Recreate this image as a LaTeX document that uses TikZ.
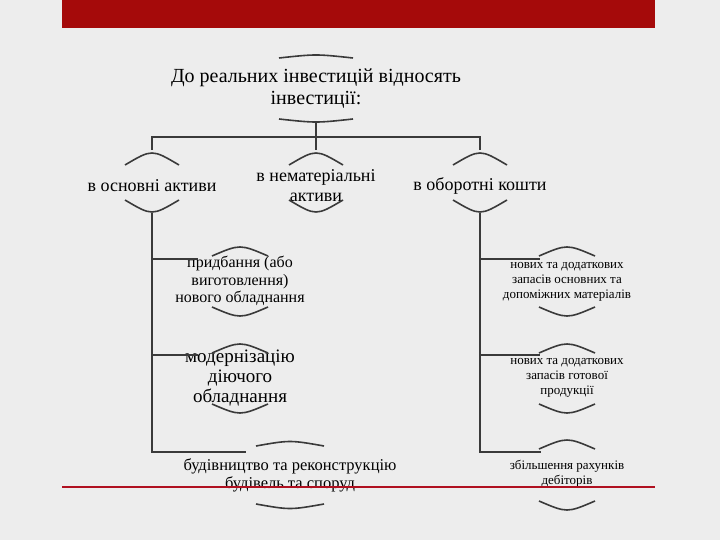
\documentclass[tikz,border=0pt]{standalone}
\usepackage{fontspec}
\setmainfont{Liberation Serif}
\definecolor{barred}{HTML}{A50A0A}
\definecolor{linered}{HTML}{B01020}
\definecolor{bg}{HTML}{EDEDED}
\definecolor{ink}{HTML}{3A3A3A}
\newcommand{\ringarcs}[5]{%
  \draw[arcst] ({#1-#4},{#2+#5}) .. controls (#1,{#2-#5}) .. ({#1+#4},{#2+#5});
  \draw[arcst] ({#1-#4},{#3-#5}) .. controls (#1,{#3+#5}) .. ({#1+#4},{#3-#5});}
\begin{document}
\begin{tikzpicture}[x=1pt,y=-1pt,
  arcst/.style={draw=ink,line width=1.6pt},
  conn/.style={draw=ink,line width=1.4pt},
  lbl/.style={align=center,text=black,inner sep=0pt},
  big/.style={lbl,font=\fontsize{20}{22}\selectfont},
  mid/.style={lbl,font=\fontsize{18}{20}\selectfont},
  small/.style={lbl,font=\fontsize{13}{15}\selectfont}]
\fill[bg] (0,0) rectangle (720,540);
\useasboundingbox (0,0) rectangle (720,540);
\fill[barred] (62,0) rectangle (655,28);
% nodes
\node[big] (root) at (316,89) {До реальних інвестицій відносять\\інвестиції:};
\node[mid] (a) at (152,186) {в основні активи};
\node[mid] (b) at (316,186) {в нематеріальні\\активи};
\node[mid] (c) at (480,186) {в оборотні кошти};
\node[lbl,font=\fontsize{16}{17.5}\selectfont] (a1) at (240,281) {придбання (або\\виготовлення)\\нового обладнання};
\node[lbl,font=\fontsize{19}{20}\selectfont] (a2) at (240,378) {модернізацію\\діючого\\обладнання};
\node[lbl,font=\fontsize{16.5}{18}\selectfont] (a3) at (290,475) {будівництво та реконструкцію\\будівель та споруд};
\node[small] (c1) at (567,282) {нових та додаткових\\запасів основних та\\допоміжних матеріалів};
\node[small] (c2) at (567,378) {нових та додаткових\\запасів готової\\продукції};
\node[small] (c3) at (567,474) {збільшення рахунків\\дебіторів};
% arcs
\ringarcs{316}{56}{121}{37}{2}
\ringarcs{152}{157}{208}{27}{8}
\ringarcs{316}{157}{208}{27}{8}
\ringarcs{480}{157}{208}{27}{8}
\ringarcs{240}{250}{313}{28}{6}
\ringarcs{240}{347}{410}{28}{6}
\ringarcs{290}{443}{507}{34}{3}
\ringarcs{567}{250}{313}{28}{6}
\ringarcs{567}{347}{410}{28}{6}
\ringarcs{567}{443}{507}{28}{6}
% connectors
\coordinate (rb) at (316,122);
\coordinate (ra) at (152,150);
\coordinate (rc) at (480,150);
\coordinate (rbb) at (316,150);
\coordinate (ab) at (152,213);
\coordinate (cb) at (480,213);
\draw[conn] (rb) -- (316,137) -| (ra);
\draw[conn] (316,137) -| (rc);
\draw[conn] (316,137) -- (rbb);
\coordinate (a1l) at (198,259);
\coordinate (a2l) at (198,355);
\coordinate (a3l) at (246,452);
\coordinate (c1l) at (540,259);
\coordinate (c2l) at (540,355);
\coordinate (c3l) at (541,452);
\draw[conn] (ab) |- (a3l);
\draw[conn] (152,259) -- (a1l);
\draw[conn] (152,355) -- (a2l);
\draw[conn] (cb) |- (c3l);
\draw[conn] (480,259) -- (c1l);
\draw[conn] (480,355) -- (c2l);
\draw[linered,line width=1.6pt] (62,487) -- (655,487);
\end{tikzpicture}
\end{document}
